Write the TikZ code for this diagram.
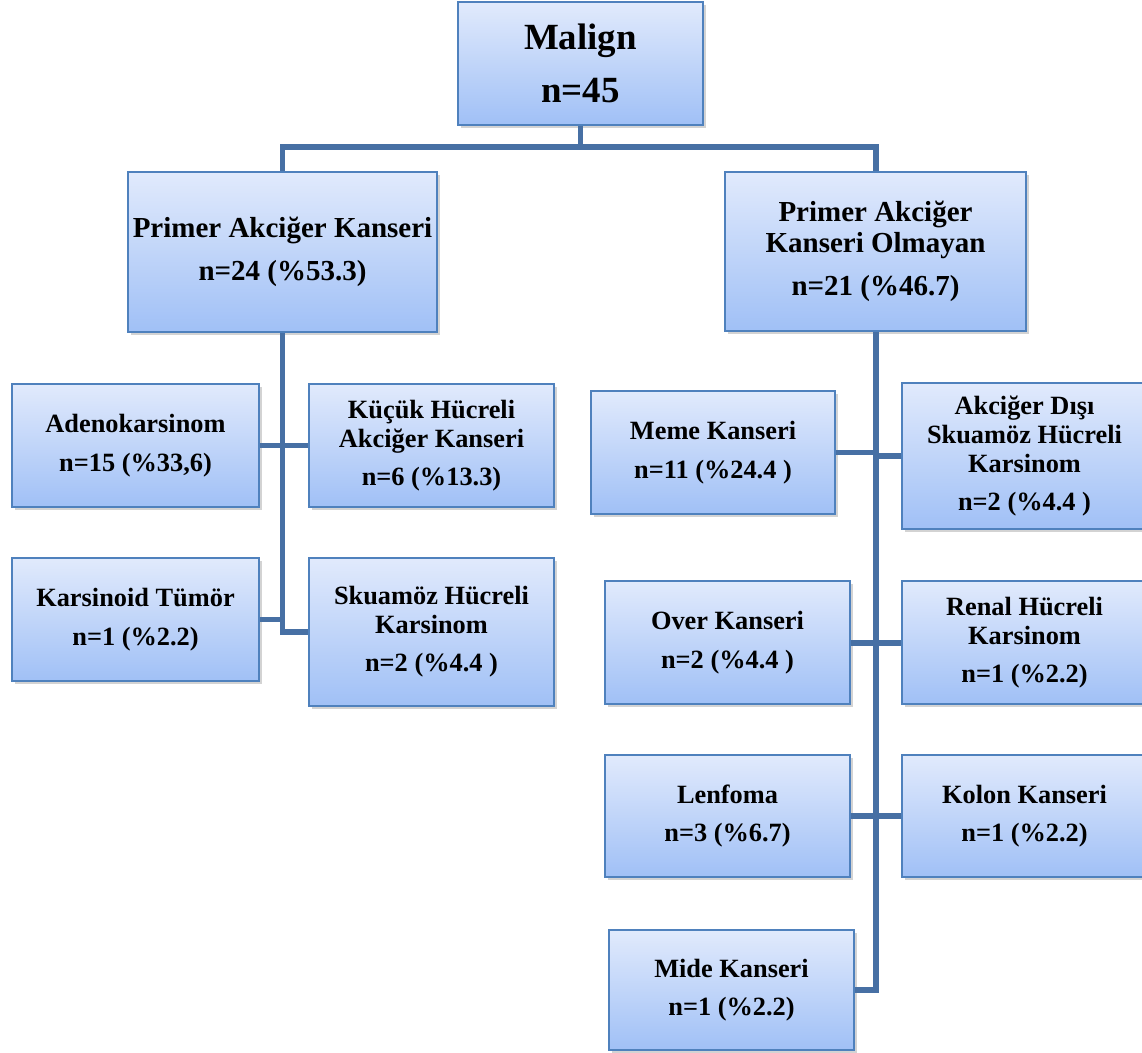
\documentclass[tikz,border=0pt]{standalone}
\usepackage{fontspec}
\setmainfont{Liberation Serif}
\usepackage{tikz}
\usetikzlibrary{shadows}
\definecolor{boxtop}{RGB}{225,234,252}
\definecolor{boxbot}{RGB}{160,192,246}
\definecolor{boxedge}{RGB}{79,129,189}
\definecolor{linkblue}{RGB}{71,112,164}

\begin{document}
\begin{tikzpicture}[x=0.02cm,y=-0.02cm,
  box/.style={draw=boxedge,line width=1.1pt,top color=boxtop,bottom color=boxbot,
    drop shadow={shadow xshift=1.6pt,shadow yshift=-1.6pt,opacity=0.35},
    inner sep=0pt,align=center,minimum width=4.9cm,minimum height=2.46cm,
    font=\fontsize{15}{16.5}\selectfont\bfseries},
  bigbox/.style={box,minimum height=3.2cm,font=\fontsize{16.5}{17.6}\selectfont\bfseries},
  link/.style={linkblue,line width=3.4pt}]
  \useasboundingbox (0,0) rectangle (1142,1052);
  % root and the two main groups
  \node[box,font=\fontsize{21}{24}\selectfont\bfseries] (malign) at (580.5,63.5) {Malign\\[6pt]n=45};
  \node[bigbox,minimum width=6.18cm] (pak) at (282.5,252) {Primer Akciğer Kanseri\\[7pt]n=24 (\%53.3)};
  \node[bigbox,minimum width=6.02cm,minimum height=3.18cm] (pako) at (875.5,251.5) {Primer Akciğer\\Kanseri Olmayan\\[7pt]n=21 (\%46.7)};
  % primary lung cancer
  \node[box,minimum width=4.94cm] (adeno) at (135.5,445.5) {Adenokarsinom\\[5.5pt]n=15 (\%33,6)};
  \node[box] (kucuk) at (431.5,445.5) {Küçük Hücreli\\Akciğer Kanseri\\[5pt]n=6 (\%13.3)};
  \node[box,minimum width=4.94cm] (karsinoid) at (135.5,619.5) {Karsinoid Tümör\\[5.5pt]n=1 (\%2.2)};
  \node[box,minimum height=2.96cm] (skuamoz) at (431.5,632) {Skuamöz Hücreli\\Karsinom\\[5pt]n=2 (\%4.4 )};
  % other primaries
  \node[box,minimum width=4.88cm] (meme) at (713,452.5) {Meme Kanseri\\[5.5pt]n=11 (\%24.4 )};
  \node[box,minimum height=2.92cm] (disi) at (1024.5,456) {Akciğer Dışı\\Skuamöz Hücreli\\Karsinom\\[5pt]n=2 (\%4.4 )};
  \node[box] (over) at (727.5,642.5) {Over Kanseri\\[5.5pt]n=2 (\%4.4 )};
  \node[box] (renal) at (1024.5,642.5) {Renal Hücreli\\Karsinom\\[5pt]n=1 (\%2.2)};
  \node[box,minimum height=2.44cm] (lenfoma) at (727.5,816) {Lenfoma\\[5.5pt]n=3 (\%6.7)};
  \node[box,minimum height=2.44cm] (kolon) at (1024.5,816) {Kolon Kanseri\\[5.5pt]n=1 (\%2.2)};
  \node[box,minimum height=2.4cm] (mide) at (731.5,990) {Mide Kanseri\\[5.5pt]n=1 (\%2.2)};
  % connectors
  \coordinate (bus) at (580.5,147);
  \draw[link] (malign.south) -- (bus);
  \draw[link] (pak.north) |- (bus) -| (pako.north);
  \draw[link] (pak.south) |- (skuamoz.west);
  \draw[link] (adeno.east) -- (kucuk.west);
  \draw[link] (karsinoid.east) -- (karsinoid.east -| pak.south);
  \draw[link] (pako.south) |- (mide.east);
  \draw[link] (meme.east) -- (meme.east -| pako.south);
  \draw[link] (disi.west) -- (disi.west -| pako.south);
  \draw[link] (over.east) -- (renal.west);
  \draw[link] (lenfoma.east) -- (kolon.west);
\end{tikzpicture}
\end{document}
